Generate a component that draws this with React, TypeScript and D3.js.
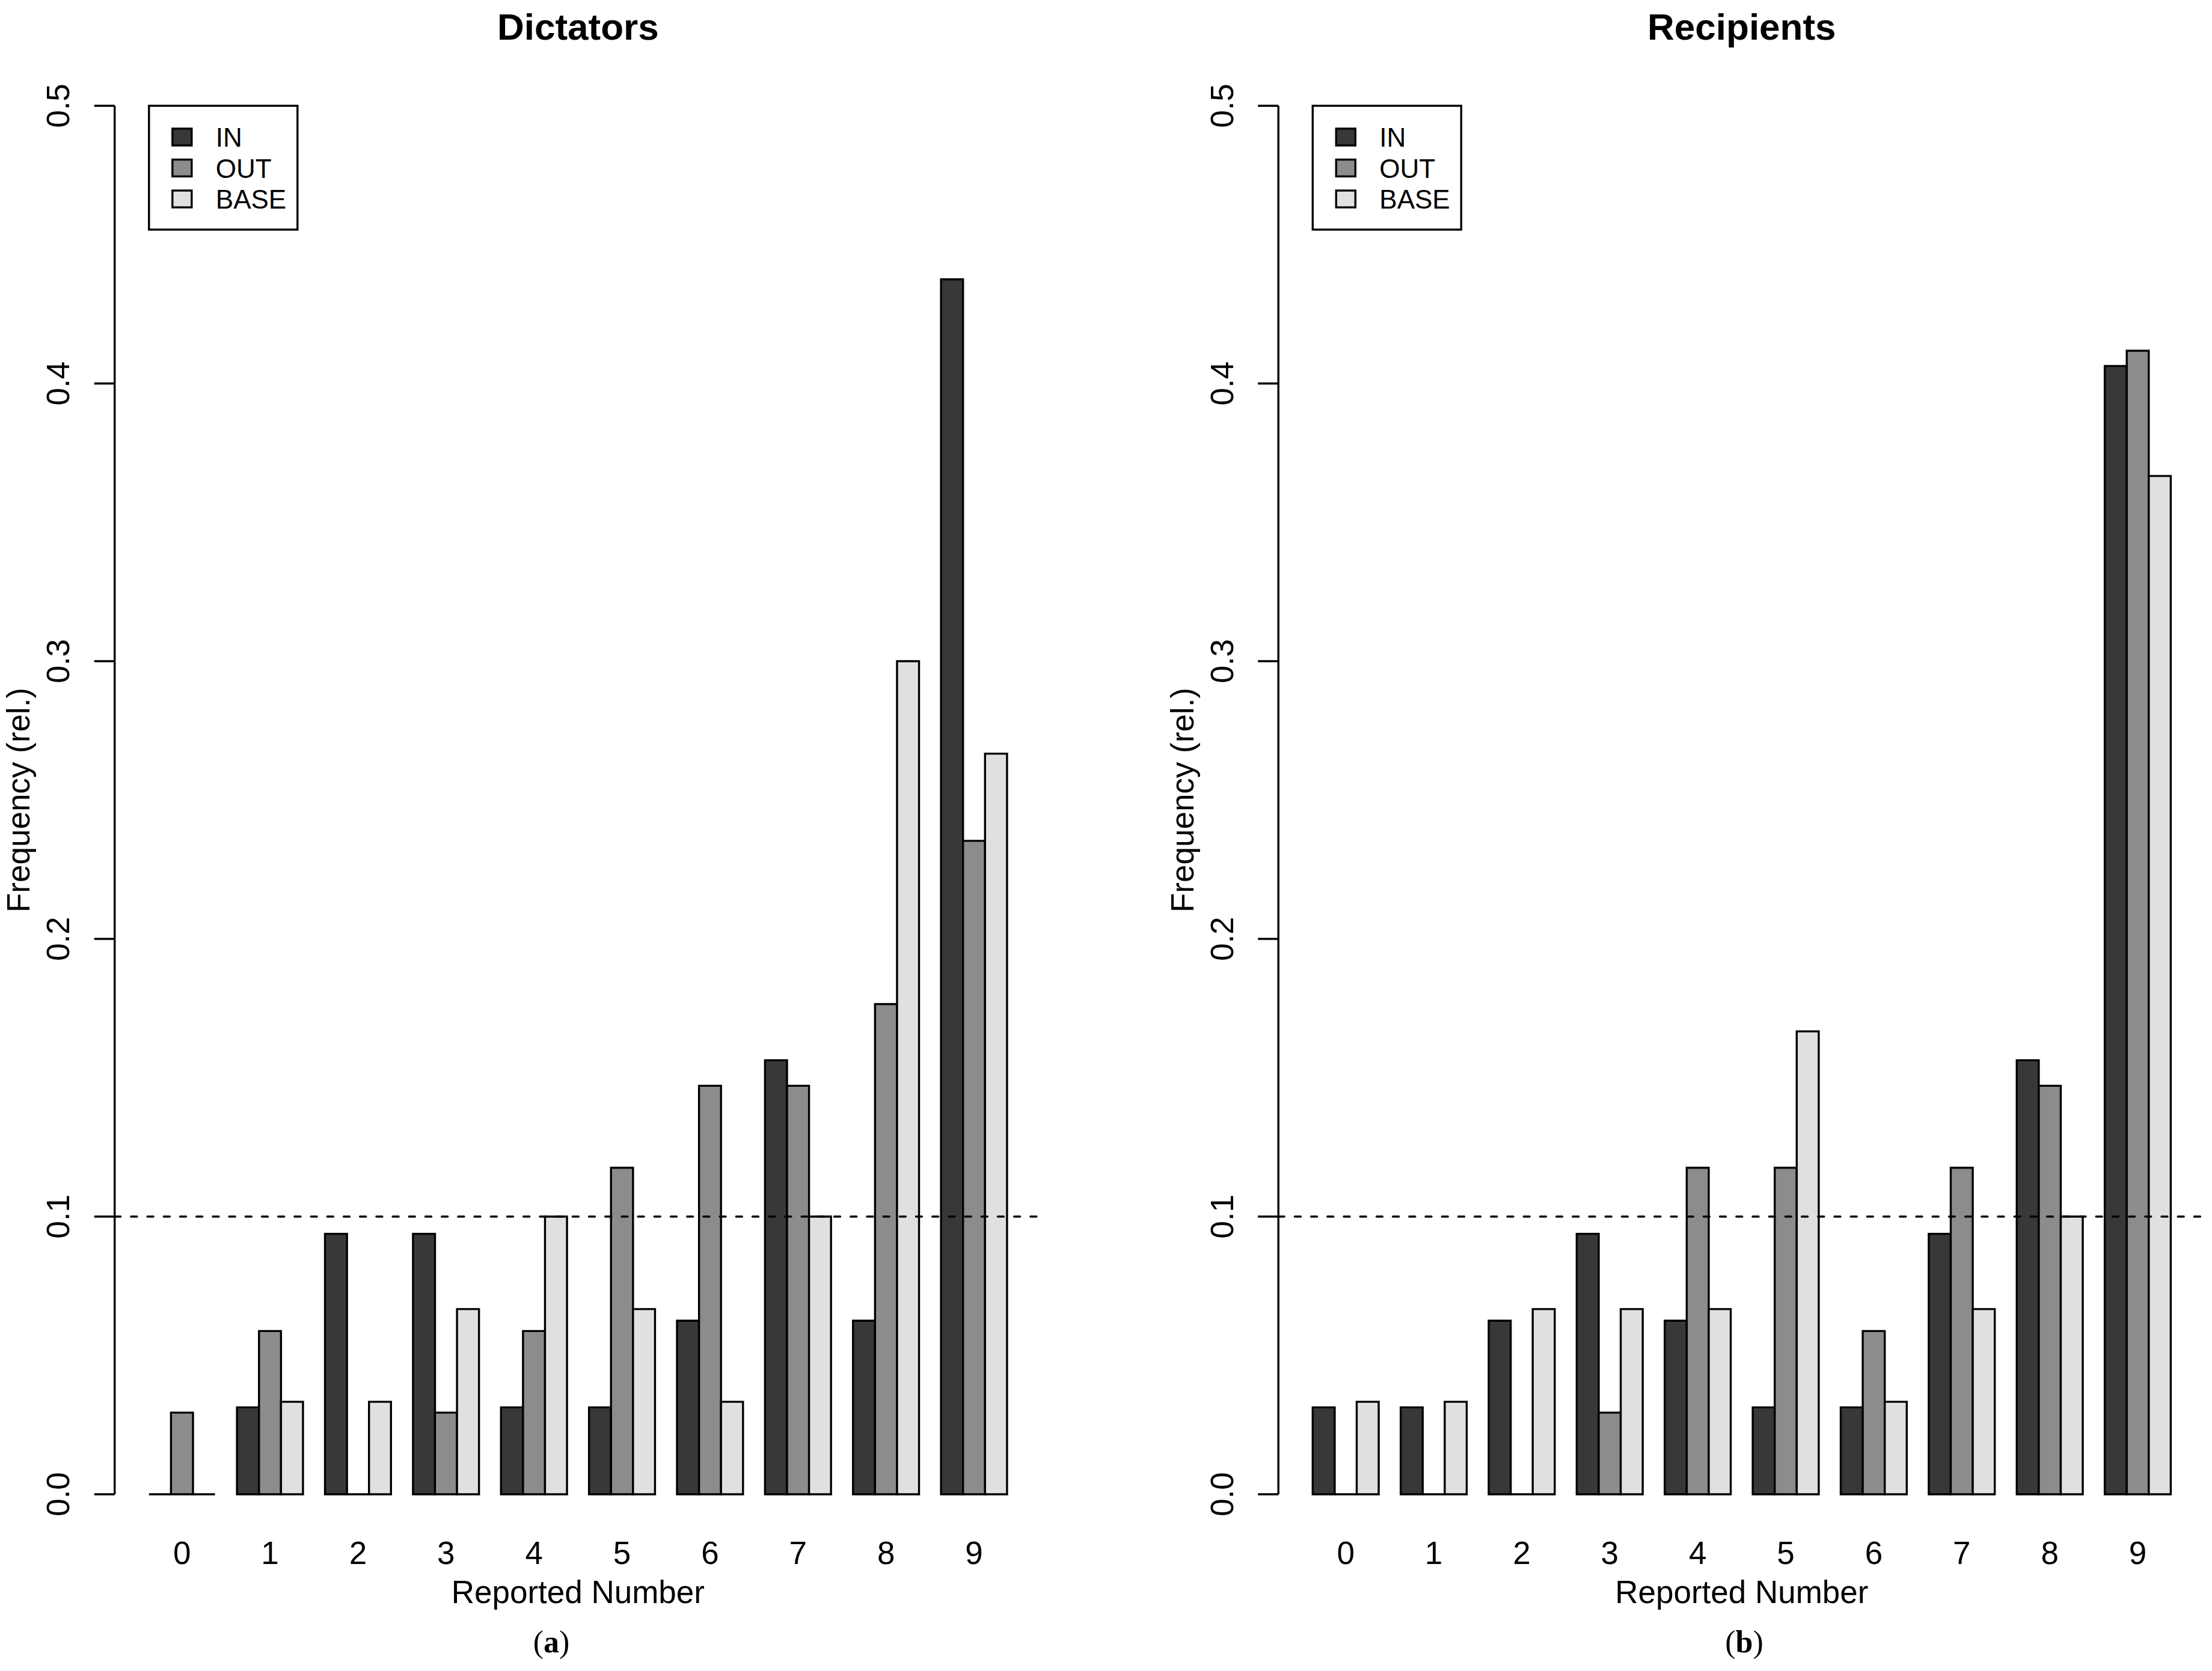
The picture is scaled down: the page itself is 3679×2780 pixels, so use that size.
import React from "react";
import * as d3 from "d3";

// reported numbers 0..9 and the three treatments
const categories = ["0", "1", "2", "3", "4", "5", "6", "7", "8", "9"];
const seriesNames = ["IN", "OUT", "BASE"];
const seriesColors = ["#383838", "#8c8c8c", "#e0e0e0"];

// relative frequencies
const dictatorsIn = [0, 0.0313, 0.0938, 0.0938, 0.0313, 0.0313, 0.0625, 0.1563, 0.0625, 0.4375];
const dictatorsOut = [0.0294, 0.0588, 0, 0.0294, 0.0588, 0.1176, 0.1471, 0.1471, 0.1765, 0.2353];
const dictatorsBase = [0, 0.0333, 0.0333, 0.0667, 0.1, 0.0667, 0.0333, 0.1, 0.3, 0.2667];

const recipientsIn = [0.0313, 0.0313, 0.0625, 0.0938, 0.0625, 0.0313, 0.0313, 0.0938, 0.1563, 0.4063];
const recipientsOut = [0, 0, 0, 0.0294, 0.1176, 0.1176, 0.0588, 0.1176, 0.1471, 0.4118];
const recipientsBase = [0.0333, 0.0333, 0.0667, 0.0667, 0.0667, 0.1667, 0.0333, 0.0667, 0.1, 0.3667];

const yTicks = [0, 0.1, 0.2, 0.3, 0.4, 0.5];
const referenceLine = 0.1;

const W = 3679;
const H = 2780;
const SANS = "'Liberation Sans', Arial, Helvetica, sans-serif";
const SERIF = "'Liberation Serif', 'Times New Roman', serif";
const LW = 3.4;

// y: data -> px, x: R bar units (usr extent) -> px
const y = d3.scaleLinear().domain([0, 0.5]).range([2486, 176]);
const unit = d3.scaleLinear().domain([-0.56, 41.56]).range([190.7, 1732]);
const groupX = d3
    .scaleBand<string>()
    .domain(categories)
    .range([unit(0), unit(41)])
    .paddingInner(0.25)
    .paddingOuter(0.25);
const seriesX = d3.scaleBand<string>().domain(seriesNames).range([0, groupX.bandwidth()]);

interface PanelProps {
    dx: number;
    title: string;
    caption: string;
    captionX: number;
    values: number[][];
}

function Panel({ dx, title, caption, captionX, values }: PanelProps) {
    const [x0, x1] = unit.range();
    const fmt = d3.format(".1f");
    const legendX = groupX(categories[0])!;
    const legendY = y(0.5);

    return (
        <g transform={`translate(${dx},0)`}>
            {/* bars */}
            {values.map((vals, si) =>
                vals.map((v, ci) => {
                    const p = d3.path();
                    const bx = groupX(categories[ci])! + seriesX(seriesNames[si])!;
                    p.rect(bx, y(v), seriesX.bandwidth(), y(0) - y(v));
                    return (
                        <path
                            key={`${si}-${ci}`}
                            d={p.toString()}
                            fill={seriesColors[si]}
                            stroke="#000"
                            strokeWidth={LW}
                        />
                    );
                })
            )}

            {/* reference line */}
            <line
                x1={x0}
                x2={x1}
                y1={y(referenceLine)}
                y2={y(referenceLine)}
                stroke="#000"
                strokeWidth={LW}
                strokeDasharray="10 17.2"
                strokeLinecap="round"
            />

            {/* y axis */}
            <line x1={x0} x2={x0} y1={y(0)} y2={y(0.5)} stroke="#000" strokeWidth={LW} />
            {yTicks.map((t) => (
                <g key={t}>
                    <line x1={x0 - 34} x2={x0} y1={y(t)} y2={y(t)} stroke="#000" strokeWidth={LW} />
                    <text
                        transform={`translate(115,${y(t)}) rotate(-90)`}
                        textAnchor="middle"
                        fontFamily={SANS}
                        fontSize={53}
                    >
                        {fmt(t)}
                    </text>
                </g>
            ))}

            {/* category labels */}
            {categories.map((c) => (
                <text
                    key={c}
                    x={groupX(c)! + groupX.bandwidth() / 2}
                    y={2602}
                    textAnchor="middle"
                    fontFamily={SANS}
                    fontSize={53}
                >
                    {c}
                </text>
            ))}

            {/* titles */}
            <text x={(x0 + x1) / 2} y={66} textAnchor="middle" fontFamily={SANS} fontSize={62} fontWeight="bold">
                {title}
            </text>
            <text x={(x0 + x1) / 2} y={2667} textAnchor="middle" fontFamily={SANS} fontSize={53}>
                Reported Number
            </text>
            <text
                transform={`translate(49,${(y(-0.02) + y(0.52)) / 2}) rotate(-90)`}
                textAnchor="middle"
                fontFamily={SANS}
                fontSize={53}
            >
                Frequency (rel.)
            </text>

            {/* legend */}
            <rect x={legendX} y={legendY} width={247} height={206} fill="#fff" stroke="#000" strokeWidth={LW} />
            {seriesNames.map((s, i) => {
                const cy = legendY + 52 + i * 51.5;
                return (
                    <g key={s}>
                        <rect
                            x={legendX + 39}
                            y={cy - 14}
                            width={32}
                            height={28}
                            fill={seriesColors[i]}
                            stroke="#000"
                            strokeWidth={LW}
                        />
                        <text x={legendX + 111} y={cy + 16} fontFamily={SANS} fontSize={44}>
                            {s}
                        </text>
                    </g>
                );
            })}

            {/* sub-figure caption */}
            <text x={captionX - dx} y={2749} textAnchor="middle" fontFamily={SERIF} fontSize={52}>
                (<tspan fontWeight="bold">{caption}</tspan>)
            </text>
        </g>
    );
}

export default function App() {
    return (
        <svg
            width={W}
            height={H}
            viewBox={`0 0 ${W} ${H}`}
            style={{ position: "absolute", left: 0, top: 0, background: "#fff" }}
        >
            <rect width={W} height={H} fill="#fff" />
            <Panel
                dx={0}
                title="Dictators"
                caption="a"
                captionX={917}
                values={[dictatorsIn, dictatorsOut, dictatorsBase]}
            />
            <Panel
                dx={1935.5}
                title="Recipients"
                caption="b"
                captionX={2901}
                values={[recipientsIn, recipientsOut, recipientsBase]}
            />
        </svg>
    );
}
